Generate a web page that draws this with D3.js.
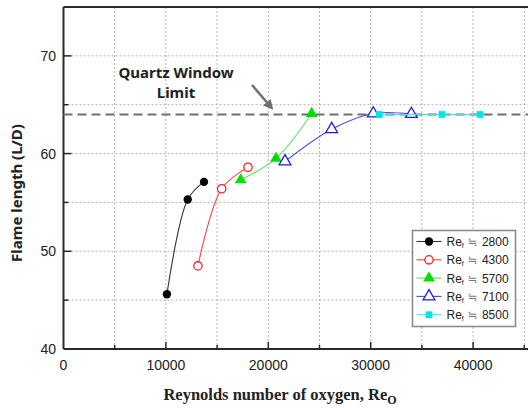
<!DOCTYPE html>
<html lang="en">
<head>
    <meta charset="UTF-8">
    <title>Flame length vs Reynolds number</title>
    <script src="https://d3js.org/d3.v7.min.js"></script>
    <style>
        body { margin: 0; background: #fff; }
        svg { display: block; font-family: "Liberation Sans", Arial, sans-serif; }
        .grid line { stroke: #b4b4b4; stroke-dasharray: 2,2; stroke-width: 1; }
        .tick-label { font-size: 14px; fill: #222; }
    </style>
</head>
<body>
<svg id="chart"></svg>
<script>
    // data
    const re2800X = [10100, 12130, 13720];
    const re2800Y = [45.6, 55.3, 57.1];
    const re4300X = [13130, 15450, 18020];
    const re4300Y = [48.5, 56.4, 58.6];
    const re5700X = [17300, 20750, 24240];
    const re5700Y = [57.3, 59.5, 64.1];
    const re7100X = [21630, 26190, 30250, 33970];
    const re7100Y = [59.2, 62.5, 64.1, 64.05];
    const re8500X = [30840, 36960, 40670];
    const re8500Y = [64.0, 64.0, 64.0];
    const limitY = 64;
    const xTicks = [0, 10000, 20000, 30000, 40000];
    const yTicks = [40, 50, 60, 70];
    const legendLabels = ["2800", "4300", "5700", "7100", "8500"];

    const width = 528, height = 408;
    const svg = d3.select("#chart").attr("width", width).attr("height", height);

    const x = d3.scaleLinear().domain([0, 50000]).range([63.5, 575.5]);
    const y = d3.scaleLinear().domain([40, 75]).range([349, 7]);

    // grid
    const grid = svg.append("g").attr("class", "grid");
    grid.selectAll(".gx")
        .data(d3.range(5000, 50001, 5000))
        .enter().append("line")
        .attr("x1", d => x(d)).attr("x2", d => x(d))
        .attr("y1", y(40)).attr("y2", y(75));
    grid.selectAll(".gy")
        .data(d3.range(45, 75, 5))
        .enter().append("line")
        .attr("x1", x(0)).attr("x2", x(50000))
        .attr("y1", d => y(d)).attr("y2", d => y(d));

    // axes frame
    svg.append("line")
        .attr("x1", x(0)).attr("x2", x(50000)).attr("y1", y(40)).attr("y2", y(40))
        .attr("stroke", "#2a2a2a").attr("stroke-width", 2);
    svg.append("line")
        .attr("x1", x(0)).attr("x2", x(50000)).attr("y1", y(75)).attr("y2", y(75))
        .attr("stroke", "#2a2a2a").attr("stroke-width", 2);
    svg.append("line")
        .attr("x1", x(0)).attr("x2", x(0)).attr("y1", y(40)).attr("y2", y(75))
        .attr("stroke", "#2a2a2a").attr("stroke-width", 2);

    // ticks (inside)
    svg.selectAll(".xt")
        .data(d3.range(5000, 50001, 5000))
        .enter().append("line")
        .attr("x1", d => x(d)).attr("x2", d => x(d))
        .attr("y1", y(40)).attr("y2", d => y(40) - (d % 10000 === 0 ? 7 : 4))
        .attr("stroke", "#2a2a2a").attr("stroke-width", 1.5);
    svg.selectAll(".yt")
        .data(d3.range(45, 75, 5))
        .enter().append("line")
        .attr("x1", x(0)).attr("x2", d => x(0) + (d % 10 === 0 ? 8 : 5))
        .attr("y1", d => y(d)).attr("y2", d => y(d))
        .attr("stroke", "#2a2a2a").attr("stroke-width", 1.5);

    svg.selectAll(".xl")
        .data(xTicks)
        .enter().append("text")
        .attr("class", "tick-label")
        .attr("x", d => x(d)).attr("y", 370)
        .attr("text-anchor", "middle")
        .text(d => d);
    svg.selectAll(".yl")
        .data(yTicks)
        .enter().append("text")
        .attr("class", "tick-label")
        .attr("x", 56).attr("y", d => y(d) + 5)
        .attr("text-anchor", "end")
        .text(d => d);

    // axis titles
    const xTitle = svg.append("text")
        .attr("x", 280).attr("y", 400)
        .attr("text-anchor", "middle")
        .style("font-family", "'Liberation Serif', 'DejaVu Serif', serif")
        .style("font-weight", "bold").style("font-size", "16.5px").style("fill", "#222");
    xTitle.append("tspan").text("Reynolds number of oxygen, Re");
    xTitle.append("tspan").attr("dy", 4).style("font-size", "12px").text("O");

    svg.append("text")
        .attr("transform", "translate(22,193) rotate(-90)")
        .attr("text-anchor", "middle")
        .style("font-family", "'Noto Sans', sans-serif")
        .style("font-weight", "bold").style("font-size", "15px").style("fill", "#222")
        .text("Flame length (L/D)");

    // quartz window limit
    svg.append("line")
        .attr("x1", x(0)).attr("x2", x(50000))
        .attr("y1", y(limitY)).attr("y2", y(limitY))
        .attr("stroke", "#6e6e6e").attr("stroke-width", 2.2)
        .attr("stroke-dasharray", "9,5");

    svg.append("text")
        .attr("x", 176).attr("y", 78)
        .attr("text-anchor", "middle")
        .style("font-family", "'Noto Sans', sans-serif")
        .style("font-weight", "bold").style("font-size", "15px").style("fill", "#222")
        .text("Quartz Window");
    svg.append("text")
        .attr("x", 176).attr("y", 98)
        .attr("text-anchor", "middle")
        .style("font-family", "'Noto Sans', sans-serif")
        .style("font-weight", "bold").style("font-size", "15px").style("fill", "#222")
        .text("Limit");

    svg.append("defs").append("marker")
        .attr("id", "arrow")
        .attr("viewBox", "0 0 10 10")
        .attr("refX", 5).attr("refY", 5)
        .attr("markerWidth", 4).attr("markerHeight", 4)
        .attr("orient", "auto")
        .append("path").attr("d", "M0,0 L10,5 L0,10 z").attr("fill", "#6e6e6e");
    svg.append("line")
        .attr("x1", 252).attr("y1", 85).attr("x2", 270).attr("y2", 106)
        .attr("stroke", "#6e6e6e").attr("stroke-width", 2.5)
        .attr("marker-end", "url(#arrow)");

    // series
    const series = [
        { xs: re2800X, ys: re2800Y, line: "#333", color: "#000", shape: d3.symbolCircle, size: 55, fill: true },
        { xs: re4300X, ys: re4300Y, line: "#ff4040", color: "#ff2020", shape: d3.symbolCircle, size: 55, fill: false },
        { xs: re5700X, ys: re5700Y, line: "#5ee05e", color: "#00e000", shape: d3.symbolTriangle, size: 60, fill: true },
        { xs: re7100X, ys: re7100Y, line: "#4a4aea", color: "#1a1ae6", shape: d3.symbolTriangle, size: 60, fill: false },
        { xs: re8500X, ys: re8500Y, line: "#30e8e8", color: "#00e6e6", shape: d3.symbolSquare, size: 45, fill: true }
    ];

    const lineGen = d3.line()
        .x(d => x(d[0])).y(d => y(d[1]))
        .curve(d3.curveCatmullRom.alpha(0.5));

    series.forEach(s => {
        const pts = s.xs.map((v, i) => [v, s.ys[i]]);
        svg.append("path")
            .datum(pts)
            .attr("d", lineGen)
            .attr("fill", "none")
            .attr("stroke", s.line).attr("stroke-width", 1.1);
        svg.selectAll(null)
            .data(pts)
            .enter().append("path")
            .attr("transform", d => `translate(${x(d[0])},${y(d[1])})`)
            .attr("d", d3.symbol().type(s.shape).size(s.size))
            .attr("fill", s.fill ? s.color : "#fff")
            .attr("stroke", s.color).attr("stroke-width", s.fill ? 0 : 1.3);
    });

    // legend
    const legend = svg.append("g").attr("transform", "translate(412.5,230.5)");
    legend.append("rect")
        .attr("width", 103).attr("height", 96)
        .attr("fill", "#fff").attr("stroke", "#888").attr("stroke-width", 1.5);
    series.forEach((s, i) => {
        const ly = 11 + i * 18.3;
        legend.append("line")
            .attr("x1", 4).attr("x2", 29).attr("y1", ly).attr("y2", ly)
            .attr("stroke", s.line).attr("stroke-width", 1.1);
        legend.append("path")
            .attr("transform", `translate(16.5,${ly})`)
            .attr("d", d3.symbol().type(s.shape).size(s.size))
            .attr("fill", s.fill ? s.color : "#fff")
            .attr("stroke", s.color).attr("stroke-width", s.fill ? 0 : 1.3);
        const t = legend.append("text")
            .attr("x", 34).attr("y", ly + 4.5)
            .style("font-size", "12px").style("fill", "#222");
        t.append("tspan").text("Re");
        t.append("tspan").attr("dy", 2).style("font-size", "7px").text("f");
        t.append("tspan").attr("dy", -2).attr("dx", 4).style("fill", "#777")
            .style("font-family", "'DejaVu Sans', sans-serif").text("≒");
        t.append("tspan").attr("dx", 4).text(legendLabels[i]);
    });
</script>
</body>
</html>
